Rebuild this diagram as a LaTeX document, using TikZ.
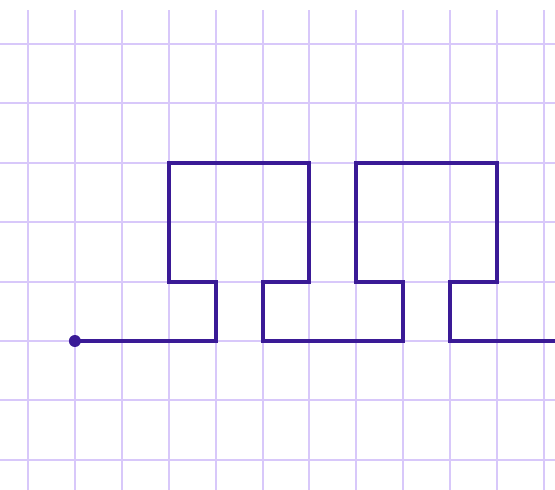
\documentclass[tikz,border=0pt]{standalone}
\definecolor{gridc}{RGB}{216,200,250}
\definecolor{pathc}{RGB}{58,26,150}
\tikzset{gridline/.style={gridc, line width=2pt},
  walk/.style={pathc, line width=4pt, line join=miter},
  startdot/.style={fill=pathc}}
\begin{document}
\begin{tikzpicture}[x=1pt,y=-1pt]
\useasboundingbox (0,0) rectangle (555,490);
\fill[white] (0,0) rectangle (555,490);
\clip (0,0) rectangle (555,490);
\foreach \i in {0,...,11} \draw[gridline] ({28+46.9*\i},10) -- ({28+46.9*\i},490);
\foreach \j in {0,...,7} \draw[gridline] (0,{44+59.4*\j}) -- (555,{44+59.4*\j});
\begin{scope}[shift={(28,44)}, x=46.9pt, y=-59.4pt]
\coordinate (s) at (1,5);
\draw[walk] (s) -- (4,5) -- (4,4) -- (3,4) -- (3,2) -- (6,2) -- (6,4) -- (5,4) -- (5,5) -- (8,5) -- (8,4) -- (7,4) -- (7,2) -- (10,2) -- (10,4) -- (9,4) -- (9,5) -- (11.5,5);
\fill[startdot] (s) circle (6pt);
\end{scope}
\end{tikzpicture}
\end{document}
